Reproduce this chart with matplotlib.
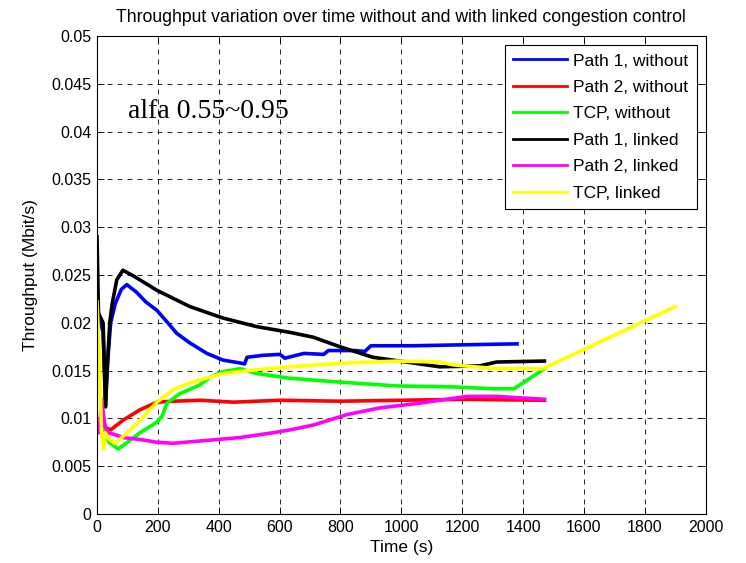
import numpy as np
import matplotlib.pyplot as plt
from matplotlib.ticker import FuncFormatter

# Path 1, without
t_p1_without = [0, 5, 20, 28, 35, 45, 60, 80, 98, 130, 160, 197, 230, 262, 305, 361, 414, 470,
                485, 493, 545, 601, 617, 680, 745, 760, 850, 880, 900, 1038, 1202, 1380]
v_p1_without = [0.022, 0.021, 0.019, 0.012, 0.016, 0.020, 0.022, 0.0235, 0.024, 0.0232, 0.0222,
                0.0213, 0.0201, 0.0189, 0.0179, 0.0168, 0.0161, 0.0158, 0.0157, 0.0164, 0.0166,
                0.0167, 0.0163, 0.0168, 0.0167, 0.0171, 0.0171, 0.0170, 0.0176, 0.0176, 0.0177, 0.0178]

# Path 2, without
t_p2_without = [0, 20, 30, 45, 85, 141, 197, 250, 338, 450, 600, 800, 1000, 1200, 1470]
v_p2_without = [0.0095, 0.0093, 0.0090, 0.0088, 0.0098, 0.0109, 0.0117, 0.0118, 0.0119, 0.0117,
                0.0119, 0.0118, 0.0119, 0.0120, 0.0119]

# TCP, without
t_tcp_without = [0, 20, 40, 70, 100, 141, 197, 215, 230, 273, 338, 371, 414, 470, 525, 634,
                 798, 985, 1170, 1301, 1370, 1470]
v_tcp_without = [0.009, 0.0088, 0.0075, 0.0068, 0.0075, 0.0085, 0.0096, 0.0103, 0.0116, 0.0126,
                 0.0135, 0.0143, 0.0149, 0.0152, 0.0147, 0.0142, 0.0138, 0.0134, 0.0133, 0.0131,
                 0.0131, 0.0152]

# Path 1, linked
t_p1_linked = [0, 5, 20, 28, 35, 42, 50, 65, 85, 120, 197, 305, 414, 525, 634, 710, 798, 906,
               1038, 1126, 1258, 1313, 1470]
v_p1_linked = [0.029, 0.021, 0.020, 0.0112, 0.016, 0.020, 0.022, 0.0245, 0.0255, 0.0249, 0.0234,
               0.0217, 0.0205, 0.0196, 0.019, 0.0185, 0.0175, 0.0164, 0.0158, 0.0154, 0.0155,
               0.0159, 0.016]

# Path 2, linked
t_p2_linked = [0, 8, 15, 25, 35, 60, 85, 141, 197, 250, 361, 470, 578, 634, 710, 821, 929, 1061,
               1149, 1215, 1313, 1470]
v_p2_linked = [0.0095, 0.0085, 0.012, 0.0095, 0.0085, 0.0083, 0.008, 0.0078, 0.0075, 0.0074,
               0.0077, 0.008, 0.0085, 0.0088, 0.0093, 0.0104, 0.0111, 0.0116, 0.012, 0.0123,
               0.0123, 0.012]

# TCP, linked
t_tcp_linked = [0, 8, 15, 22, 27, 40, 59, 100, 141, 197, 250, 305, 414, 525, 634, 821, 985,
                1126, 1170, 1313, 1465, 1900]
v_tcp_linked = [0.0222, 0.0163, 0.0086, 0.0068, 0.0085, 0.0078, 0.0074, 0.0085, 0.0098, 0.0117,
                0.013, 0.0137, 0.0147, 0.0151, 0.0154, 0.0158, 0.016, 0.0159, 0.0156, 0.0152,
                0.0152, 0.0217]

series = [
    ('Path 1, without', t_p1_without, v_p1_without, (0, 0, 1)),
    ('Path 2, without', t_p2_without, v_p2_without, (1, 0, 0)),
    ('TCP, without', t_tcp_without, v_tcp_without, (0, 1, 0)),
    ('Path 1, linked', t_p1_linked, v_p1_linked, (0, 0, 0)),
    ('Path 2, linked', t_p2_linked, v_p2_linked, (1, 0, 1)),
    ('TCP, linked', t_tcp_linked, v_tcp_linked, (1, 1, 0)),
]

plt.rcParams['font.family'] = ['Liberation Sans', 'DejaVu Sans']

fig = plt.figure(figsize=(7.46, 5.63), dpi=100)
ax = fig.add_axes([0.130, 0.087, 0.816, 0.849])

for label, t, v, color in series:
    ax.plot(t, v, color=color, lw=2.6, label=label)

ax.set_xlim(0, 2000)
ax.set_ylim(0, 0.05)
ax.set_xticks(np.arange(0, 2001, 200))
ax.set_yticks(np.arange(0, 0.0501, 0.005))
ax.yaxis.set_major_formatter(FuncFormatter(lambda y, _: '%g' % round(y, 4)))
ax.tick_params(direction='in', top=True, right=True, labelsize=11.5, length=5, width=0.6, pad=4)
ax.grid(True, color='black', linestyle=(0, (6, 6)), lw=0.6)
for sp in ax.spines.values():
    sp.set_linewidth(0.8)

ax.set_title('Throughput variation over time without and with linked congestion control',
             fontsize=12.7, pad=10)
ax.set_xlabel('Time (s)', fontsize=12.5)
ax.set_ylabel('Throughput (Mbit/s)', fontsize=12.5)
ax.yaxis.set_label_coords(-0.097, 0.5)
ax.xaxis.set_label_coords(0.5, -0.055)

ax.text(101, 0.04145, 'alfa 0.55~0.95', family='Liberation Serif', fontsize=20)

leg = ax.legend(loc='upper right', fontsize=12.5, fancybox=False, framealpha=1,
                edgecolor='black', handlelength=3.1, handletextpad=0.35, borderaxespad=0.5,
                labelspacing=0.65, borderpad=0.5)
leg.get_frame().set_linewidth(0.8)
for line in leg.get_lines():
    line.set_linewidth(2)

fig.savefig('out.png', dpi=100)
